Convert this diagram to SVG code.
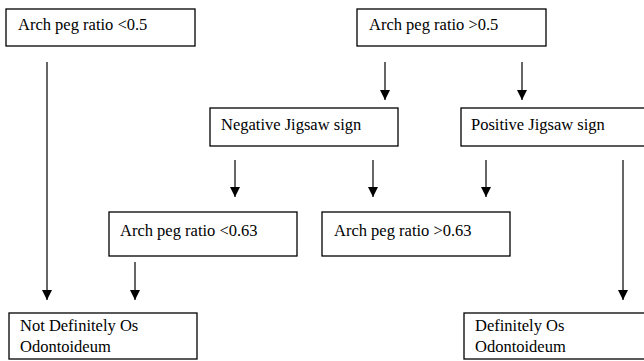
<svg xmlns="http://www.w3.org/2000/svg" width="644" height="361" viewBox="0 0 644 361">
<style>
.box{fill:#fff;stroke:#000;stroke-width:1.3}
text{font-family:'Liberation Serif','Times New Roman',serif;font-size:16.5px;fill:#000}
.c{stroke:#000;stroke-width:1.2;fill:none}
</style>
<defs>
<marker id="ah" viewBox="0 0 10 10" refX="10" refY="5" markerWidth="10" markerHeight="10" markerUnits="userSpaceOnUse" orient="auto">
<path d="M0,0 L10,5 L0,10 Z" fill="#000"/>
</marker>
</defs>
<rect width="644" height="361" fill="#fff"/>
<g id="connectors">
<line class="c" x1="47" y1="62" x2="47" y2="300" marker-end="url(#ah)"/>
<line class="c" x1="385" y1="62" x2="385" y2="100" marker-end="url(#ah)"/>
<line class="c" x1="522" y1="62" x2="522" y2="100" marker-end="url(#ah)"/>
<line class="c" x1="235" y1="160" x2="235" y2="197" marker-end="url(#ah)"/>
<line class="c" x1="373" y1="160" x2="373" y2="197" marker-end="url(#ah)"/>
<line class="c" x1="486" y1="160" x2="486" y2="197" marker-end="url(#ah)"/>
<line class="c" x1="623" y1="160" x2="623" y2="300" marker-end="url(#ah)"/>
<line class="c" x1="135" y1="262" x2="135" y2="300" marker-end="url(#ah)"/>
</g>
<g id="n1"><rect class="box" x="6" y="9" width="189" height="37"/><text x="18" y="30">Arch peg ratio &lt;0.5</text></g>
<g id="n2"><rect class="box" x="357" y="9" width="189" height="37"/><text x="369" y="30">Arch peg ratio &gt;0.5</text></g>
<g id="n3"><rect class="box" x="210" y="108" width="188" height="38"/><text x="221" y="130">Negative Jigsaw sign</text></g>
<g id="n4"><rect class="box" x="461" y="108" width="190" height="38"/><text x="471" y="130">Positive Jigsaw sign</text></g>
<g id="n5"><rect class="box" x="109" y="212" width="188" height="44"/><text x="120" y="236">Arch peg ratio &lt;0.63</text></g>
<g id="n6"><rect class="box" x="322" y="212" width="188" height="44"/><text x="334" y="236">Arch peg ratio &gt;0.63</text></g>
<g id="n7"><rect class="box" x="9" y="313" width="188" height="46"/><text x="20" y="331">Not Definitely Os</text><text x="20" y="352">Odontoideum</text></g>
<g id="n8"><rect class="box" x="464" y="313" width="190" height="46"/><text x="475" y="331">Definitely Os</text><text x="475" y="352">Odontoideum</text></g>
</svg>
